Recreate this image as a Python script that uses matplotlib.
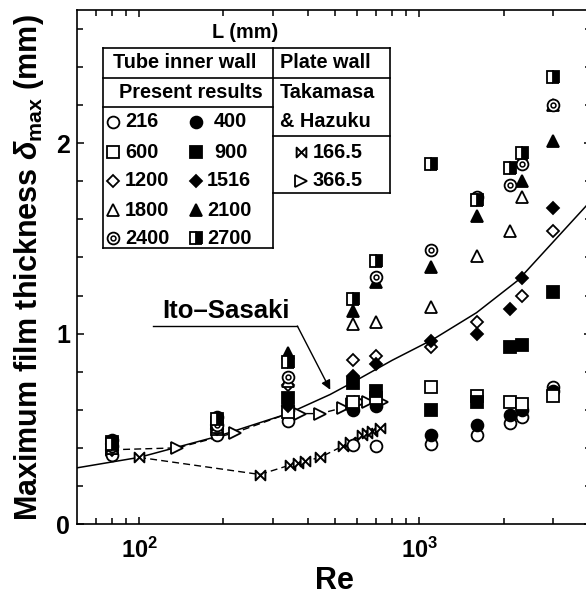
import numpy as np
import matplotlib
matplotlib.use('Agg')
import matplotlib.pyplot as plt
from matplotlib.path import Path
from matplotlib.lines import Line2D
from matplotlib.ticker import FixedLocator, NullFormatter

plt.rcParams['font.family'] = ['Liberation Sans', 'DejaVu Sans']
plt.rcParams['font.weight'] = 'bold'
plt.rcParams['mathtext.fontset'] = 'custom'
plt.rcParams['mathtext.rm'] = 'Liberation Sans:bold'
plt.rcParams['mathtext.bf'] = 'Liberation Sans:bold'
plt.rcParams['mathtext.it'] = 'Liberation Sans:italic'

nan = np.nan

# present results, tube inner wall: delta_max (mm) vs Re for each L (mm)
re_tube = [80, 190, 340, 580, 700, 1100, 1600, 2100, 2330, 3000]
d216 = [0.36, 0.47, 0.54, 0.415, 0.41, 0.42, 0.47, 0.53, 0.56, 0.72]
d400 = [0.44, 0.56, 0.60, 0.60, 0.62, 0.47, 0.52, 0.57, 0.60, 0.70]
d600 = [0.40, 0.50, 0.59, 0.64, 0.66, 0.72, 0.67, 0.64, 0.63, 0.67]
d900 = [0.43, 0.53, 0.66, 0.74, 0.70, 0.60, 0.64, 0.93, 0.94, 1.22]
d1200 = [0.39, 0.50, 0.73, 0.86, 0.88, 0.93, 1.06, nan, 1.20, 1.54]
d1516 = [0.42, 0.52, 0.62, 0.78, 0.84, 0.96, 1.00, 1.13, 1.29, 1.66]
d1800 = [0.40, 0.51, 0.75, 1.05, 1.06, 1.14, 1.41, 1.54, 1.72, 2.20]
d2100 = [0.43, 0.54, 0.90, 1.12, 1.27, 1.35, 1.62, nan, 1.80, 2.01]
d2400 = [0.41, 0.52, 0.77, nan, 1.30, 1.44, 1.72, 1.78, 1.89, 2.20]
d2700 = [0.42, 0.55, 0.85, 1.18, 1.38, 1.89, 1.70, 1.87, 1.95, 2.35]

# Takamasa & Hazuku, plate wall
re_th166 = [100, 270, 346, 370, 391, 443, 534, 567, 626, 651, 679, 725]
d_th166 = [0.35, 0.26, 0.31, 0.32, 0.33, 0.35, 0.41, 0.43, 0.47, 0.48, 0.49, 0.505]
re_th366 = [80, 137, 220, 355, 376, 443, 532, 576, 616, 657, 738]
d_th366 = [0.39, 0.40, 0.48, 0.59, 0.58, 0.58, 0.61, 0.63, 0.64, 0.64, 0.64]

# Ito-Sasaki curve
re_ito = [60, 100, 190, 340, 480, 580, 800, 1120, 1600, 2250, 3040, 4050]
d_ito = [0.295, 0.35, 0.46, 0.58, 0.68, 0.745, 0.86, 0.97, 1.11, 1.28, 1.49, 1.69]

# bowtie marker for L = 166.5
bowtie = Path([(-1, 1), (-1, -1), (1, 1), (1, -1), (-1, 1)],
              [Path.MOVETO, Path.LINETO, Path.LINETO, Path.LINETO, Path.CLOSEPOLY])

ms = 8.5
mew = 1.3
styles = {
    '216': dict(marker='o', mfc='white', ms=ms),
    '400': dict(marker='o', mfc='black', ms=ms),
    '600': dict(marker='s', mfc='white', ms=ms - 0.5),
    '900': dict(marker='s', mfc='black', ms=ms - 0.5),
    '1200': dict(marker='D', mfc='white', ms=ms - 2),
    '1516': dict(marker='D', mfc='black', ms=ms - 2),
    '1800': dict(marker='^', mfc='white', ms=ms),
    '2100': dict(marker='^', mfc='black', ms=ms),
    '2400': dict(marker='o', mfc='white', ms=ms),
    '2700': dict(marker='s', mfc='black', mfcalt='white', fillstyle='right', ms=ms - 0.5),
}
tube = [('216', d216), ('400', d400), ('600', d600), ('900', d900), ('1200', d1200),
        ('1516', d1516), ('1800', d1800), ('2100', d2100), ('2400', d2400), ('2700', d2700)]

W, H = 586, 595
fig = plt.figure(figsize=(W / 100, H / 100), dpi=100)
ax = fig.add_axes([77 / W, 1 - 524 / H, (591 - 77) / W, 514 / H])


def fx(x):
    return x / W


def fy(y):
    return 1 - y / H


# curve and plate-wall data
ax.plot(re_ito, d_ito, color='black', lw=1.1)
ax.plot(re_th166, d_th166, color='black', lw=1.0, ls=(0, (5, 3)),
        marker=bowtie, ms=7, mfc='white', mec='black', mew=1.4)
ax.plot(re_th366, d_th366, color='black', lw=1.0, ls=(0, (5, 3)),
        marker='>', ms=ms, mfc='white', mec='black', mew=mew)

for name, vals in tube:
    ax.plot(re_tube, vals, ls='none', mec='black', mew=mew, **styles[name])
    if name == '2400':
        ax.plot(re_tube, vals, ls='none', marker='o', ms=3.5, mfc='white', mec='black', mew=1.1)

ax.set_xscale('log')
ax.set_xlim(60, 4100)
ax.set_ylim(0, 2.7)

ax.set_xticks([100, 1000])
ax.set_xticklabels([r'$10^{2}$', r'$10^{3}$'])
ax.xaxis.set_minor_locator(FixedLocator([70, 80, 90, 200, 300, 400, 500, 600, 700, 800, 900, 2000, 3000]))
ax.xaxis.set_minor_formatter(NullFormatter())
ax.set_yticks([0, 1, 2])
ax.set_yticklabels(['0', '1', '2'])
ax.yaxis.set_minor_locator(FixedLocator(np.arange(0.2, 2.7, 0.2)))
ax.tick_params(which='both', direction='in', top=True, right=True, width=1.1)
ax.tick_params(which='major', length=5)
ax.tick_params(which='minor', length=4)
ax.tick_params(axis='x', labelsize=17, pad=10)
ax.tick_params(axis='y', labelsize=18, pad=5)
for s in ax.spines.values():
    s.set_linewidth(1.2)

ax.set_xlabel('Re', fontsize=22, fontweight='bold', labelpad=2)
fig.text(fx(29), fy(268), r'Maximum film thickness $\delta_{\rm max}$ (mm)',
         rotation=90, ha='center', va='center', fontsize=22, fontweight='bold')

# Ito-Sasaki label with leader line and arrow
ax.text(205, 1.12, 'Ito\u2013Sasaki', ha='center', va='center', fontsize=18.5, fontweight='bold')
ax.plot([112, 367], [1.04, 1.04], color='black', lw=1.0)
ax.annotate('', xy=(481, 0.705), xytext=(367, 1.04),
            arrowprops=dict(arrowstyle='-|>', color='black', lw=1.0,
                            mutation_scale=14, shrinkA=0, shrinkB=0))

# legend table
lw_box = 1.2


def hline(x0, x1, y):
    fig.add_artist(Line2D([fx(x0), fx(x1)], [fy(y), fy(y)], color='black', lw=lw_box))


def vline(x, y0, y1):
    fig.add_artist(Line2D([fx(x), fx(x)], [fy(y0), fy(y1)], color='black', lw=lw_box))


hline(103, 390, 48)
hline(103, 390, 78)
hline(103, 273, 107)
hline(103, 273, 248)
hline(273, 390, 136)
hline(273, 390, 193)
vline(103, 48, 248)
vline(273, 48, 248)
vline(390, 48, 193)

fs = 14.3
fig.text(fx(245), fy(33), 'L (mm)', ha='center', va='center', fontsize=fs)
fig.text(fx(185), fy(63), 'Tube inner wall', ha='center', va='center', fontsize=fs)
fig.text(fx(191), fy(92), 'Present results', ha='center', va='center', fontsize=fs)
fig.text(fx(280), fy(63), 'Plate wall', ha='left', va='center', fontsize=fs)
fig.text(fx(280), fy(92), 'Takamasa', ha='left', va='center', fontsize=fs)
fig.text(fx(280), fy(122), '& Hazuku', ha='left', va='center', fontsize=fs)

rows_y = [122, 152, 181, 210, 238]
for i, (name, _) in enumerate(tube):
    row = i // 2
    col = i % 2
    mx = 113 if col == 0 else 196
    tx = 125 if col == 0 else 207
    if len(name) == 3 and col == 1:
        tx = 214
    fig.add_artist(Line2D([fx(mx)], [fy(rows_y[row])], ls='none', mec='black', mew=mew,
                          **styles[name]))
    if name == '2400':
        fig.add_artist(Line2D([fx(mx)], [fy(rows_y[row])], ls='none', marker='o', ms=3.5,
                              mfc='white', mec='black', mew=1.1))
    fig.text(fx(tx), fy(rows_y[row]), name, ha='left', va='center', fontsize=fs)

fig.add_artist(Line2D([fx(301)], [fy(152)], ls='none', marker=bowtie, ms=7,
                      mfc='white', mec='black', mew=1.4))
fig.text(fx(313), fy(152), '166.5', ha='left', va='center', fontsize=fs)
fig.add_artist(Line2D([fx(301)], [fy(181)], ls='none', marker='>', ms=ms,
                      mfc='white', mec='black', mew=mew))
fig.text(fx(313), fy(181), '366.5', ha='left', va='center', fontsize=fs)

fig.savefig('out.png', dpi=100)
